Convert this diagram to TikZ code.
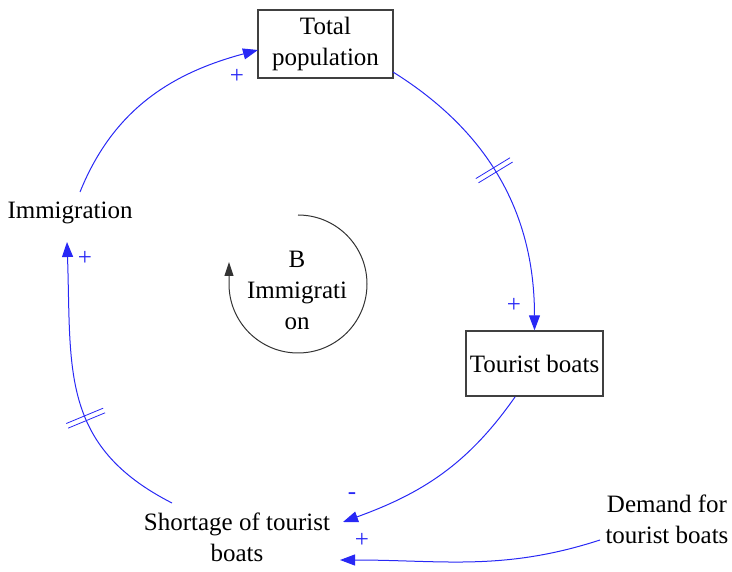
\documentclass[tikz,border=0pt]{standalone}
\usepackage{fontspec}
\setmainfont{Liberation Serif}
\usetikzlibrary{arrows.meta,decorations.markings}
\definecolor{linkblue}{RGB}{40,40,245}
\tikzset{
  txt/.style={font=\fontsize{25}{31}\selectfont, align=center, inner sep=2pt},
  stockbox/.style={txt, draw=black!75, line width=1.3pt, inner sep=3pt},
  link/.style={draw=linkblue, line width=1pt, -{Triangle[length=15pt,width=11pt]}},
  pol/.style={text=linkblue, font=\fontsize{25}{25}\selectfont, inner sep=0pt},
  hashline/.style={draw=linkblue, line width=0.8pt, arrows=-},
  delay/.style={postaction={draw=none, decorate, decoration={markings,
      mark=at position #1 with {
        \draw[hashline] (-2.5pt,-20pt) -- (-2.5pt,20pt);
        \draw[hashline] (2.5pt,-20pt) -- (2.5pt,20pt);}}}},
  loopline/.style={draw=black!80, line width=1pt, -{Triangle[length=14pt,width=9pt]}}
}
\begin{document}
\begin{tikzpicture}[x=1pt,y=1pt]
\useasboundingbox (0,0) rectangle (732,-572);

% variables
\node[stockbox, minimum width=135pt, minimum height=68pt] (tp) at (325.5,-44) {Total\\population};
\node[stockbox, minimum width=137pt, minimum height=65pt] (tb) at (534.5,-363.5) {Tourist boats};
\node[txt] (imm) at (70,-213) {Immigration};
\node[txt] (short) at (237,-537) {Shortage of tourist\\boats};
\node[txt] (dem) at (667,-519) {Demand for\\tourist boats};

% loop identifier
\node[txt] (loop) at (297,-290) {B\\Immigrati\\on};
\coordinate (lc) at (298,-284);
\draw[loopline] ([shift={(90:69)}]lc) arc[start angle=90, end angle=-180, radius=69] -- ++(0,22);

% causal links
\coordinate (tpout) at (393,-72);
\draw[link, delay=0.46] (tpout) to[out=-32, in=90] (tb.north);
\node[pol] at (514,-305) {+};

\coordinate (tbout) at (515,-397);
\coordinate (shin1) at (343,-522);
\draw[link] (tbout) to[out=-125, in=20] (shin1);
\node[pol] at (352,-496) {-};

\coordinate (demout) at (600,-540);
\coordinate (shin2) at (340,-560);
\draw[link] (demout) to[out=198, in=0] (shin2);
\node[pol] at (362,-540) {+};

\coordinate (shout) at (172,-503);
\coordinate (immin) at (67,-242);
\draw[link, delay=0.41] (shout) to[out=153, in=-88, looseness=1.15] (immin);
\node[pol] at (85,-258) {+};

\coordinate (immout) at (80,-192);
\coordinate (tpin) at (258,-50);
\draw[link] (immout) to[out=68, in=195] (tpin);
\node[pol] at (237,-76) {+};
\end{tikzpicture}
\end{document}
